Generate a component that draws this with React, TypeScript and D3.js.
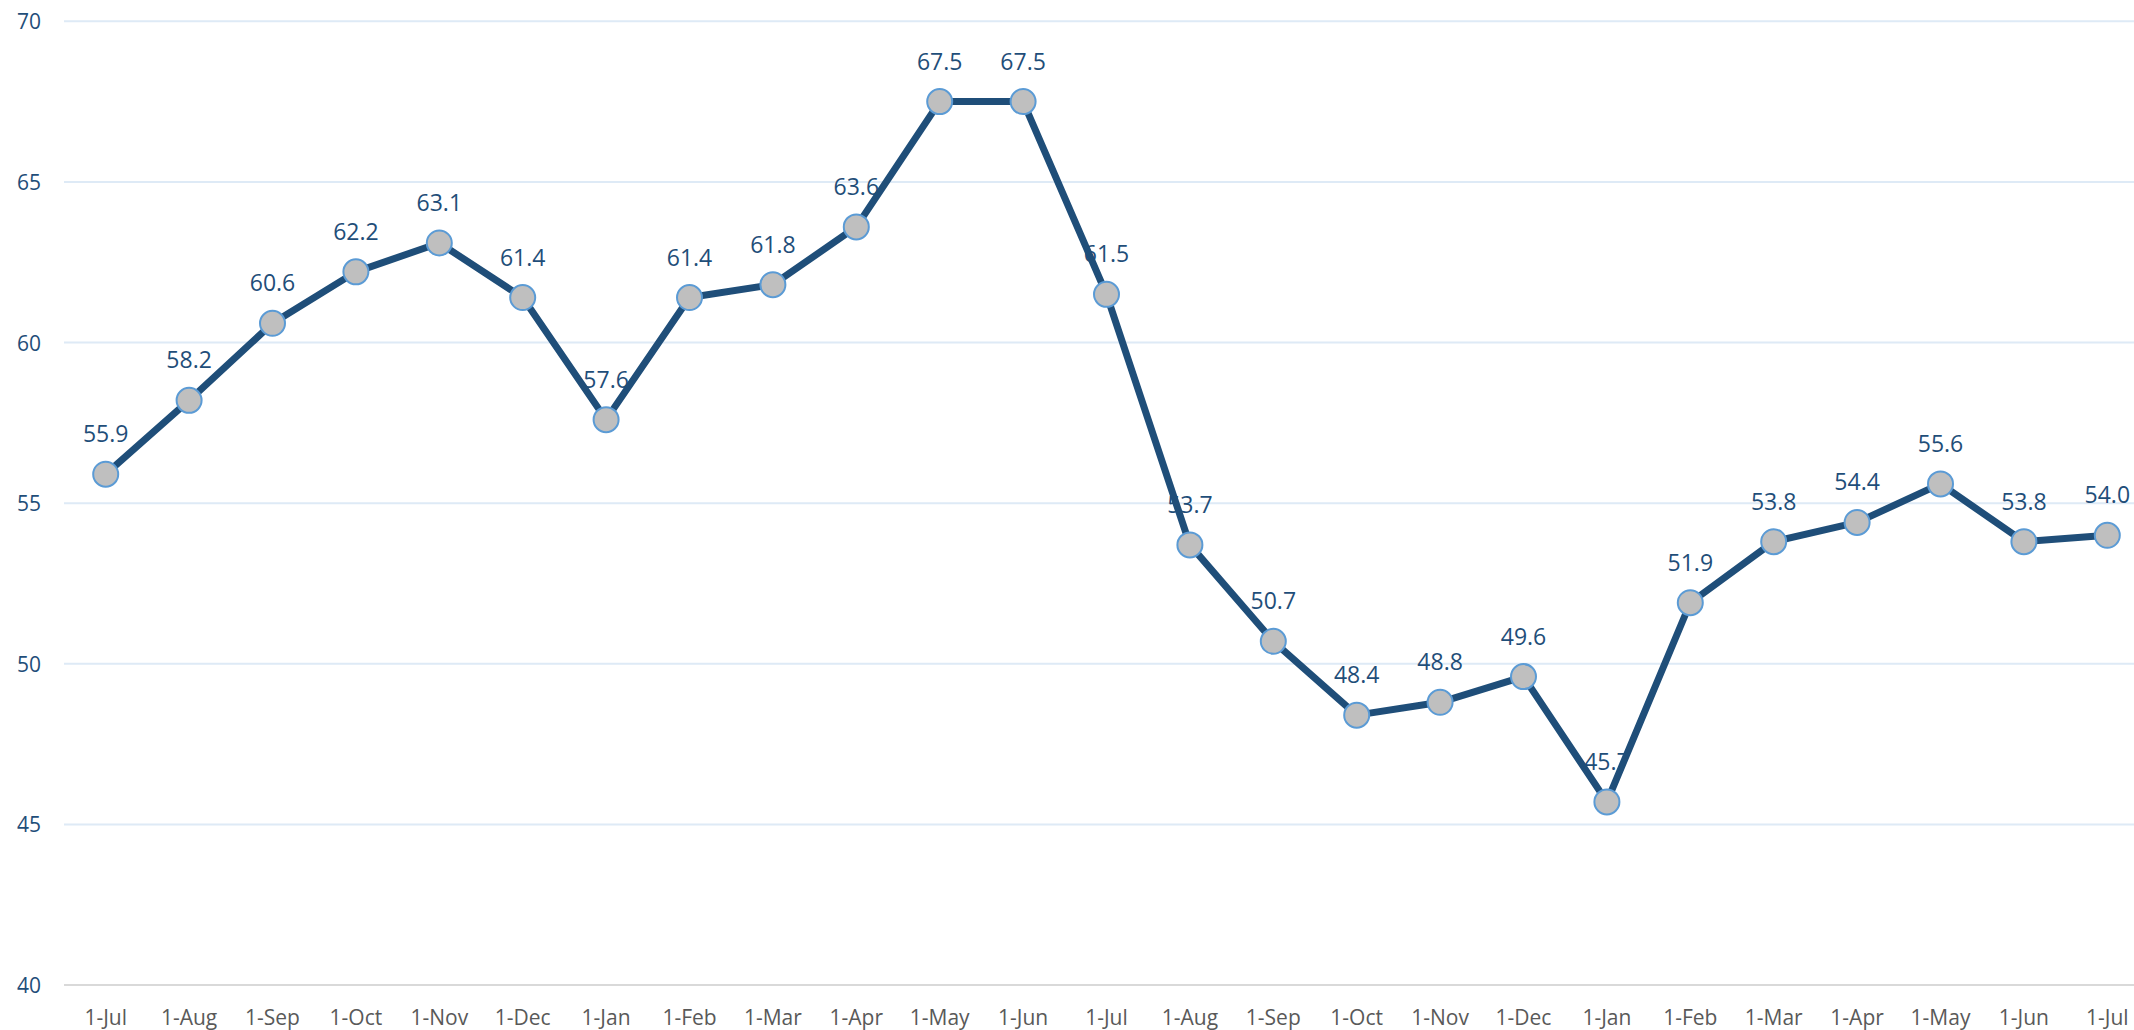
import React from 'react';
import * as d3 from 'd3';

const months = [
  '1-Jul', '1-Aug', '1-Sep', '1-Oct', '1-Nov', '1-Dec', '1-Jan', '1-Feb', '1-Mar', '1-Apr', '1-May', '1-Jun',
  '1-Jul', '1-Aug', '1-Sep', '1-Oct', '1-Nov', '1-Dec', '1-Jan', '1-Feb', '1-Mar', '1-Apr', '1-May', '1-Jun', '1-Jul'
];
const values = [
  55.9, 58.2, 60.6, 62.2, 63.1, 61.4, 57.6, 61.4, 61.8, 63.6, 67.5, 67.5,
  61.5, 53.7, 50.7, 48.4, 48.8, 49.6, 45.7, 51.9, 53.8, 54.4, 55.6, 53.8, 54.0
];
const yTicks = [40, 45, 50, 55, 60, 65, 70];

const W = 2134;
const H = 1030;

const App: React.FC = () => {
  // plot area (full-size pixel frame)
  const left = 64;
  const plotTop = 21.3;
  const plotBottom = 985;
  const step = 83.4;

  const idx = months.map((_, i) => i);
  const x = d3.scaleBand<number>()
    .domain(idx)
    .range([left, left + step * months.length])
    .paddingInner(0)
    .paddingOuter(0);
  const cx = (i: number) => (x(i) || 0) + x.bandwidth() / 2;

  const y = d3.scaleLinear().domain([40, 70]).range([plotBottom, plotTop]);

  const line = d3.line<number>()
    .x((_, i) => cx(i))
    .y(d => y(d));

  return (
    <svg
      width={W}
      height={H}
      style={{ position: 'absolute', left: 0, top: 0, background: '#fff' }}
      fontFamily="'Open Sans', sans-serif"
    >
      {/* gridlines */}
      {yTicks.map(t => (
        <line
          key={`g-${t}`}
          x1={left}
          x2={W}
          y1={y(t)}
          y2={y(t)}
          stroke={t === 40 ? '#D9D9D9' : '#DEEAF6'}
          strokeWidth={2}
        />
      ))}

      {/* y labels */}
      {yTicks.map(t => (
        <text
          key={`yl-${t}`}
          x={41}
          y={y(t)}
          textAnchor="end"
          dominantBaseline="central"
          fontSize={21}
          fill="#1F4E79"
        >
          {t}
        </text>
      ))}

      {/* x labels */}
      {months.map((m, i) => (
        <text
          key={`xl-${i}`}
          x={cx(i)}
          y={1025}
          textAnchor="middle"
          fontSize={21}
          fill="#595959"
        >
          {m}
        </text>
      ))}

      {/* data labels (under the line) */}
      {values.map((v, i) => (
        <text
          key={`dl-${i}`}
          x={cx(i)}
          y={y(v) - 32}
          textAnchor="middle"
          fontSize={23}
          fill="#1F4E79"
        >
          {v.toFixed(1)}
        </text>
      ))}

      {/* series line */}
      <path
        d={line(values) || ''}
        fill="none"
        stroke="#1F4E79"
        strokeWidth={7}
        strokeLinejoin="round"
      />

      {/* markers */}
      {values.map((v, i) => (
        <circle
          key={`m-${i}`}
          cx={cx(i)}
          cy={y(v)}
          r={12.5}
          fill="#BFBFBF"
          stroke="#5B9BD5"
          strokeWidth={2}
        />
      ))}
    </svg>
  );
};

export default App;
